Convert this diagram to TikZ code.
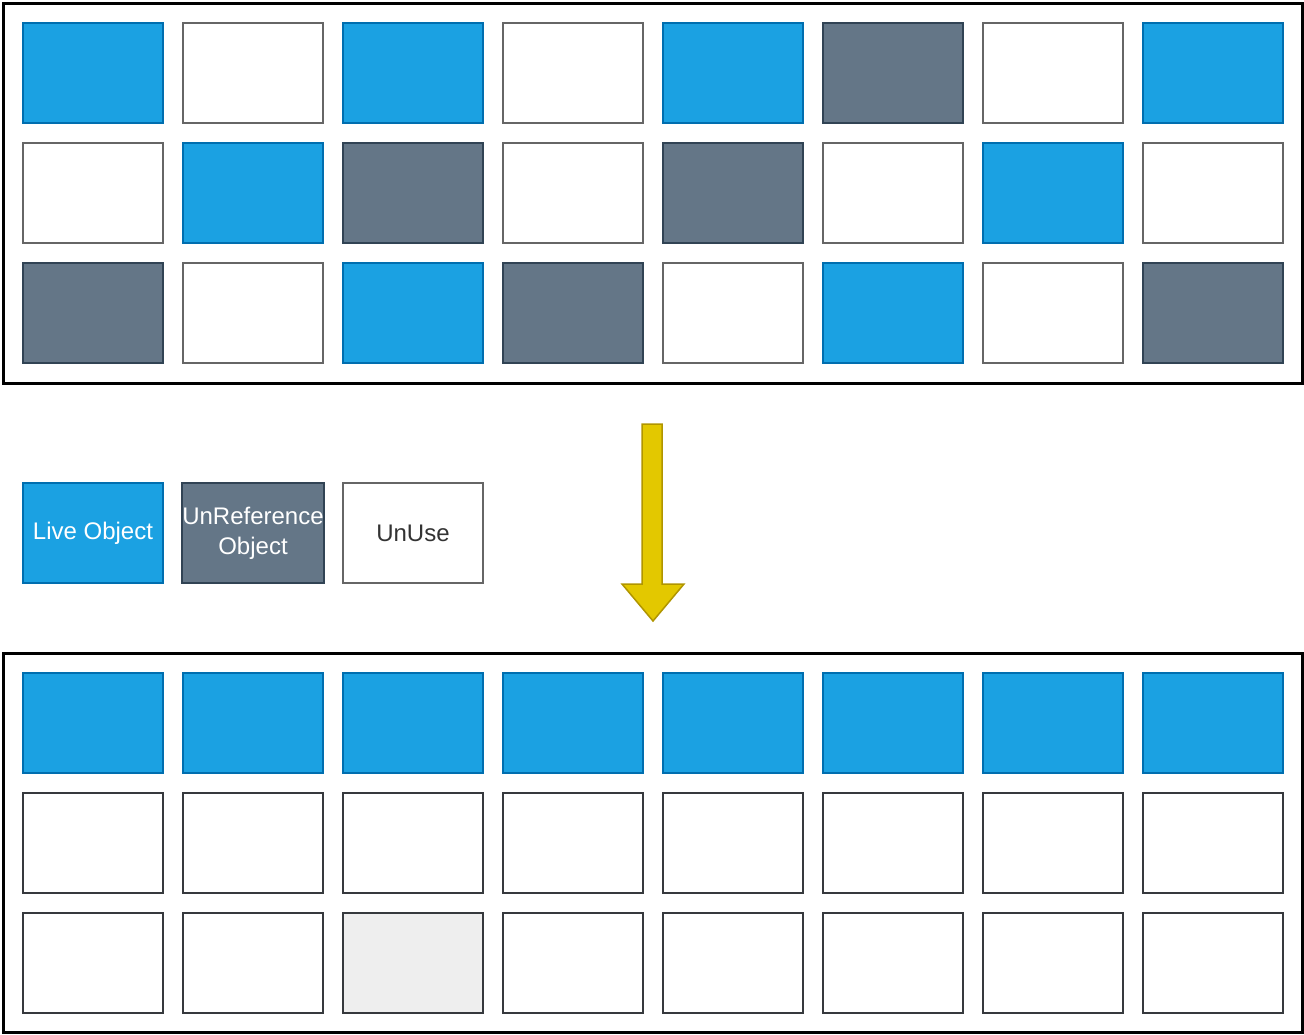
\documentclass[tikz,border=0pt]{standalone}
\usepackage{fontspec}
\setmainfont{Liberation Sans}
\usetikzlibrary{positioning}

\definecolor{liveFill}{HTML}{1BA1E2}
\definecolor{liveLine}{HTML}{006EAF}
\definecolor{refFill}{HTML}{647687}
\definecolor{refLine}{HTML}{314354}
\definecolor{unLine}{HTML}{666666}
\definecolor{freeLine}{HTML}{36393D}
\definecolor{gapFill}{HTML}{EEEEEE}
\definecolor{arrFill}{HTML}{E3C800}
\definecolor{arrLine}{HTML}{B09500}
\definecolor{txtGray}{HTML}{333333}

\tikzset{
	cell/.style={rectangle, minimum width=140pt, minimum height=100pt, inner sep=0pt,
		line width=2pt, font=\fontsize{24}{30}\selectfont, align=center},
	live/.style={cell, fill=liveFill, draw=liveLine, text=white},
	unref/.style={cell, fill=refFill, draw=refLine, text=white},
	unuse/.style={cell, fill=white, draw=unLine, text=txtGray},
	free/.style={cell, fill=white, draw=freeLine},
	gap/.style={cell, fill=gapFill, draw=freeLine},
	heap/.style={draw=black, line width=3pt},
}

\begin{document}
\begin{tikzpicture}[x=1pt,y=-1pt]
		\useasboundingbox (0,0) rectangle (1304,1034);

		% heap before
		\draw[heap] (3,3) rectangle (1302,383);
		\foreach \kind [count=\i from 0] in {live,unuse,live,unuse,live,unref,unuse,live}
			\node[\kind] (a\i) at (93+160*\i,73) {};
		\foreach \kind [count=\i from 0] in {unuse,live,unref,unuse,unref,unuse,live,unuse}
			\node[\kind] (b\i) at (93+160*\i,193) {};
		\foreach \kind [count=\i from 0] in {unref,unuse,live,unref,unuse,live,unuse,unref}
			\node[\kind] (c\i) at (93+160*\i,313) {};

		% legend
		\node[live] (keyLive) at (93,533) {Live Object};
		\node[unref] (keyRef) at (253,533) {UnReference\\Object};
		\node[unuse] (keyUse) at (413,533) {UnUse};

		% compaction arrow
		\draw[fill=arrFill, draw=arrLine, line width=1.5pt]
			(642,424) -- (662,424) -- (662,584) -- (684,584) -- (653,621)
			-- (622,584) -- (642,584) -- cycle;

		% heap after
		\draw[heap] (3,653) rectangle (1302,1032);
		\foreach \i in {0,...,7}
			\node[live] (d\i) at (93+160*\i,723) {};
		\foreach \i in {0,...,7}
			\node[free] (e\i) at (93+160*\i,843) {};
		\foreach \kind [count=\i from 0] in {free,free,gap,free,free,free,free,free}
			\node[\kind] (f\i) at (93+160*\i,963) {};

\end{tikzpicture}
\end{document}
